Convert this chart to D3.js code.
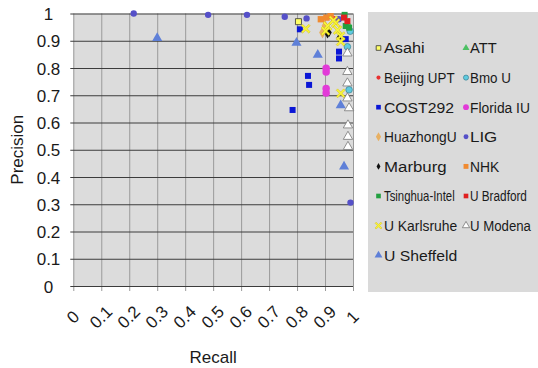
<!DOCTYPE html>
<html><head><meta charset="utf-8">
<script src="https://cdn.jsdelivr.net/npm/d3@7"></script>
<style>
body{margin:0;background:#fff}
svg{display:block}
text{font-family:"Liberation Sans",Arial,sans-serif;fill:#1a1a1a}
</style>
</head><body>
<svg id="chart" width="538" height="368"></svg>
<script>
// ---- data ----
const xTicks = [0,0.1,0.2,0.3,0.4,0.5,0.6,0.7,0.8,0.9,1];
const xTickLabels = ["0","0.1","0.2","0.3","0.4","0.5","0.6","0.7","0.8","0.9","1"];
const yTicks = [0,0.1,0.2,0.3,0.4,0.5,0.6,0.7,0.8,0.9,1];
const yTickLabels = ["0","0.1","0.2","0.3","0.4","0.5","0.6","0.7","0.8","0.9","1"];
const xTitle = "Recall";
const yTitle = "Precision";

const seriesNames = ["Asahi","ATT","Beijing UPT","Bmo U","COST292","Florida IU","HuazhongU","LIG",
  "Marburg","NHK","Tsinghua-Intel","U Bradford","U Karlsruhe","U Modena","U Sheffeld"];

// [recall, precision]
const asahi = [[0.805,0.97]];
const att = [[0.98,0.962]];
const beijingUPT = [[0.93,0.982]];
const bmoU = [[0.99,0.935],[0.98,0.878],[0.986,0.72]];
const cost292 = [[0.81,0.942],[0.95,0.86],[0.95,0.835],[0.839,0.771],[0.843,0.738],[0.784,0.646],[0.974,0.906]];
const floridaIU = [[0.904,0.799],[0.904,0.785],[0.904,0.725],[0.904,0.708]];
const huazhongU = [[0.891,0.93],[0.9,0.955]];
const lig = [[0.216,1.0],[0.482,0.995],[0.621,0.995],[0.756,0.988],[0.834,0.982],[0.949,0.979],[0.991,0.306]];
const marburg = [[0.909,0.924],[0.95,0.911],[0.915,0.93]];
const nhk = [[0.885,0.979],[0.905,0.985],[0.92,0.99]];
const tsinghuaIntel = [[0.974,0.954],[0.986,0.948],[0.97,0.995]];
const uBradford = [[0.968,0.985],[0.98,0.972]];
const uKarlsruhe = [[0.831,0.944],[0.909,0.954],[0.902,0.936],[0.938,0.965],[0.945,0.939],[0.956,0.917],[0.956,0.897],[0.956,0.707],[0.93,0.975]];
const uModena = [[0.98,0.854],[0.98,0.786],[0.98,0.744],[0.98,0.689],[0.986,0.653],[0.982,0.59],[0.982,0.548],[0.982,0.511]];
const uSheffeld = [[0.30,0.91],[0.798,0.892],[0.874,0.848],[0.956,0.663],[0.968,0.438]];

const seriesData = [asahi,att,beijingUPT,bmoU,cost292,floridaIU,huazhongU,lig,marburg,nhk,tsinghuaIntel,uBradford,uKarlsruhe,uModena,uSheffeld];

// ---- styles ----
const X_SYMBOL = {draw(ctx, size){ const r=Math.sqrt(size)/2, w=r*0.32;
  const pts=[[-r,-r+w],[-r+w,-r],[0,-w],[r-w,-r],[r,-r+w],[w,0],[r,r-w],[r-w,r],[0,w],[-r+w,r],[-r,r-w],[-w,0]];
  ctx.moveTo(pts[0][0],pts[0][1]); for(let i=1;i<pts.length;i++) ctx.lineTo(pts[i][0],pts[i][1]); ctx.closePath(); }};

const styles = [
  {type:d3.symbolSquare, size:36, fill:"#ffff66", stroke:"#333", sw:0.8},
  {type:d3.symbolTriangle, size:36, fill:"#4cc063", stroke:"none", sw:0},
  {type:d3.symbolCircle, size:22, fill:"#e83030", stroke:"none", sw:0},
  {type:d3.symbolCircle, size:34, fill:"#5fcbe0", stroke:"#3a7f90", sw:0.7},
  {type:d3.symbolSquare, size:36, fill:"#0a16d6", stroke:"none", sw:0},
  {type:d3.symbolCircle, size:44, fill:"#e23ad8", stroke:"none", sw:0},
  {type:d3.symbolDiamond, size:40, fill:"#e8b062", stroke:"none", sw:0},
  {type:d3.symbolCircle, size:32, fill:"#5550c8", stroke:"none", sw:0},
  {type:d3.symbolDiamond, size:22, fill:"#111", stroke:"none", sw:0},
  {type:d3.symbolSquare, size:40, fill:"#f08a30", stroke:"none", sw:0},
  {type:d3.symbolSquare, size:36, fill:"#22a040", stroke:"none", sw:0},
  {type:d3.symbolSquare, size:36, fill:"#e02020", stroke:"none", sw:0},
  {type:X_SYMBOL, size:80, fill:"#f7f43a", stroke:"#c9b200", sw:0.4},
  {type:d3.symbolTriangle, size:38, fill:"#ffffff", stroke:"#777", sw:0.8},
  {type:d3.symbolTriangle, size:44, fill:"#5f80d8", stroke:"none", sw:0}
];
const legendTextWidths = [40.7,26.7,70.7,41,70,60,72.7,27.3,62.7,29.3,70.7,57,73.3,61,73.3];

// ---- layout ----
const svg = d3.select("#chart");
const x = d3.scaleLinear().domain([0,1]).range([73.3,353]);
const y = d3.scaleLinear().domain([0,1]).range([286,13.5]);
const plotW = x(1)-x(0), plotH = y(0)-y(1);

svg.append("rect").attr("x",x(0)).attr("y",y(1)).attr("width",plotW).attr("height",plotH).attr("fill","#dcdcdc");

// x axis with vertical gridlines
const gx = svg.append("g").attr("transform",`translate(0,${y(1)})`)
  .call(d3.axisBottom(x).tickValues(xTicks).tickFormat((d,i)=>xTickLabels[i]).tickSize(plotH+5));
gx.select(".domain").remove();
gx.selectAll(".tick line").attr("stroke","#9a9a9a").attr("stroke-width",1);
gx.selectAll(".tick text").attr("y",null).attr("dy",null)
  .attr("text-anchor","middle").attr("font-size","17px")
  .attr("transform",`translate(-1,${317-y(1)}) rotate(-45)`)
  .attr("dy","0.35em").attr("dx","0");

// y axis with horizontal gridlines
const gy = svg.append("g").attr("transform",`translate(${x(0)-3},0)`)
  .call(d3.axisLeft(y).tickValues(yTicks).tickFormat((d,i)=>yTickLabels[i]).tickSize(-(plotW+3)));
gy.select(".domain").remove();
gy.selectAll(".tick line").attr("stroke","#3c3c3c").attr("stroke-width",1);
gy.selectAll(".tick text").attr("x",48.5-(x(0)-3)).attr("dy","0.36em")
  .attr("text-anchor","middle").attr("font-size","17px");

// titles
svg.append("text").attr("x",(x(0)+x(1))/2).attr("y",363).attr("text-anchor","middle")
  .attr("font-size","17px").text(xTitle);
svg.append("text").attr("transform",`translate(23,${(y(0)+y(1))/2}) rotate(-90)`)
  .attr("text-anchor","middle").attr("font-size","17px").text(yTitle);

// points
seriesData.forEach((pts,si)=>{
  const st = styles[si];
  svg.append("g").selectAll("path").data(pts).join("path")
    .attr("transform",d=>`translate(${x(d[0])},${y(d[1])})`)
    .attr("d", d3.symbol().type(st.type).size(st.size)())
    .attr("fill",st.fill).attr("stroke",st.stroke).attr("stroke-width",st.sw);
});

// legend
const lg = svg.append("g");
lg.append("rect").attr("x",368).attr("y",12).attr("width",170).attr("height",280).attr("fill","#dadada");
seriesNames.forEach((name,i)=>{
  const col = i%2, row = Math.floor(i/2);
  const cy = 48 + row*29.6;
  const mx = col===0 ? 378.5 : 466;
  const tx = col===0 ? 384 : 470;
  const st = styles[i];
  lg.append("path").attr("transform",`translate(${mx},${cy})`)
    .attr("d", d3.symbol().type(st.type).size(st.size*0.6)())
    .attr("fill",st.fill).attr("stroke",st.stroke).attr("stroke-width",st.sw);
  const t = lg.append("text").attr("x",0).attr("y",0).attr("dy","0.36em").attr("font-size","15px").text(name);
  const natural = t.node().getComputedTextLength();
  const k = legendTextWidths[i] / natural;
  t.attr("transform",`translate(${tx},${cy}) scale(${k},1)`);
});
</script>
</body></html>
